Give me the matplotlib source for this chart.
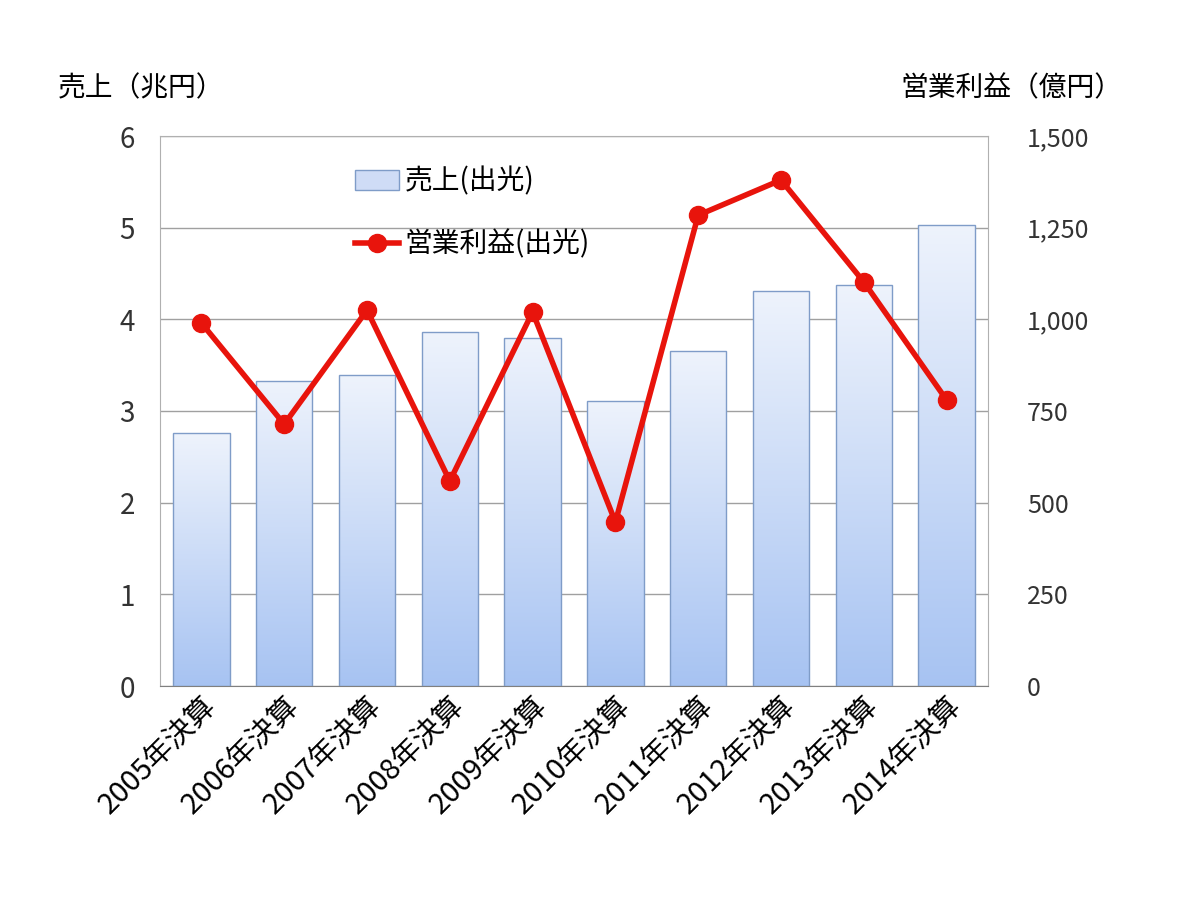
import matplotlib
matplotlib.use("Agg")
import matplotlib.pyplot as plt
import numpy as np
from matplotlib.patches import Patch
from matplotlib.lines import Line2D
from matplotlib.colors import LinearSegmentedColormap

plt.rcParams['font.family'] = ['Noto Sans CJK JP', 'DejaVu Sans']

years = ["2005年決算","2006年決算","2007年決算","2008年決算","2009年決算",
         "2010年決算","2011年決算","2012年決算","2013年決算","2014年決算"]
sales = [2.76, 3.33, 3.39, 3.86, 3.80, 3.11, 3.65, 4.31, 4.37, 5.03]
profit = [990, 714, 1025, 559, 1020, 447, 1284, 1380, 1102, 780]

fig = plt.figure(figsize=(12, 9), dpi=100)
ax = fig.add_axes([160/1200, 1-686/900, 828/1200, 550/900])
x = np.arange(len(years))
bars = ax.bar(x, sales, width=0.68, color='none', edgecolor='#7f9cc8', linewidth=1, zorder=3)
grad = np.linspace(1, 0, 256).reshape(-1, 1)
cmap = LinearSegmentedColormap.from_list('g', ['#a7c3f2', '#eef3fc'])
for b in bars:
    im = ax.imshow(grad, extent=[b.get_x(), b.get_x()+b.get_width(), 0, b.get_height()],
                   aspect='auto', cmap=cmap, origin='upper', zorder=2)
    im.set_clip_path(b)
ax.set_xlim(-0.5, len(years)-0.5)
ax.set_ylim(0, 6)
ax.set_yticks(range(7))
ax.yaxis.grid(True, color='#a0a0a0', linewidth=1)
ax.set_axisbelow(True)
for s in ['top', 'right', 'left']:
    ax.spines[s].set_color('#b0b0b0')
ax.spines['bottom'].set_color('#808080')
ax.tick_params(axis='y', length=0, labelsize=20, colors='#333333', pad=18)
ax.tick_params(axis='x', length=0, labelsize=21, pad=4)
ax.set_xticks(x)
ax.set_xticklabels(years, rotation=45, ha='right', rotation_mode='anchor')

ax2 = ax.twinx()
ax2.plot(x, profit, color='#e8140c', linewidth=4, marker='o', markersize=13, zorder=5)
ax2.set_ylim(0, 1500)
ax2.set_yticks([0, 250, 500, 750, 1000, 1250, 1500])
ax2.set_yticklabels(['0', '250', '500', '750', '1,000', '1,250', '1,500'])
ax2.tick_params(axis='y', length=0, labelsize=18, colors='#333333', pad=28)
for s in ax2.spines.values():
    s.set_visible(False)

fig.text(58/1200, 1-88/900, '売上（兆円）', fontsize=20, va='center', ha='left')
fig.text(1122/1200, 1-88/900, '営業利益（億円）', fontsize=20, va='center', ha='right')

handles = [Patch(facecolor='#cfdcf6', edgecolor='#7f9cc8'),
           Line2D([0], [0], color='#e8140c', linewidth=4, marker='o', markersize=13)]
leg = ax.legend(handles, ['売上(出光)', '営業利益(出光)'], loc='upper left',
                bbox_to_anchor=(0.205, 0.99), frameon=False, fontsize=20,
                handlelength=1.6, labelspacing=1.2, handletextpad=0.2)
leg.set_zorder(10)
fig.savefig('out.png', dpi=100)
